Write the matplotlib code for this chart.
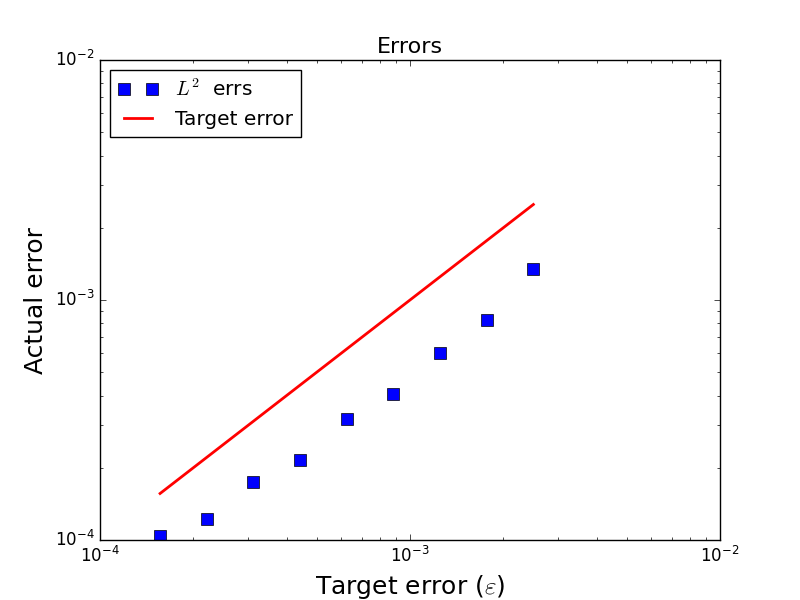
import matplotlib
matplotlib.use("Agg")
import matplotlib.pyplot as plt
import numpy as np

plt.style.use("classic")

# target tolerances (eps) and measured L2 errors
target = [1.5625e-4, 2.21e-4, 3.125e-4, 4.42e-4, 6.25e-4, 8.84e-4, 1.25e-3, 1.768e-3, 2.5e-3]
l2_errs = [1.04e-4, 1.22e-4, 1.745e-4, 2.155e-4, 3.19e-4, 4.06e-4, 6.01e-4, 8.25e-4, 1.346e-3]

fig = plt.figure(figsize=(8, 6), dpi=100)
ax = fig.add_subplot(111)

ax.loglog(target, l2_errs, "bs", markersize=9, label=r"$L^2$  errs")
ax.loglog(target, target, "r-", linewidth=2, label="Target error")

ax.set_xlim(1e-4, 1e-2)
ax.set_ylim(1e-4, 1e-2)
ax.set_title("Errors", fontsize=16)
ax.set_xlabel(r"Target error ($\varepsilon$)", fontsize=18)
ax.set_ylabel("Actual error", fontsize=18)
ax.legend(loc="upper left", numpoints=2, fontsize=14.5)

fig.savefig("out.png", dpi=100)
